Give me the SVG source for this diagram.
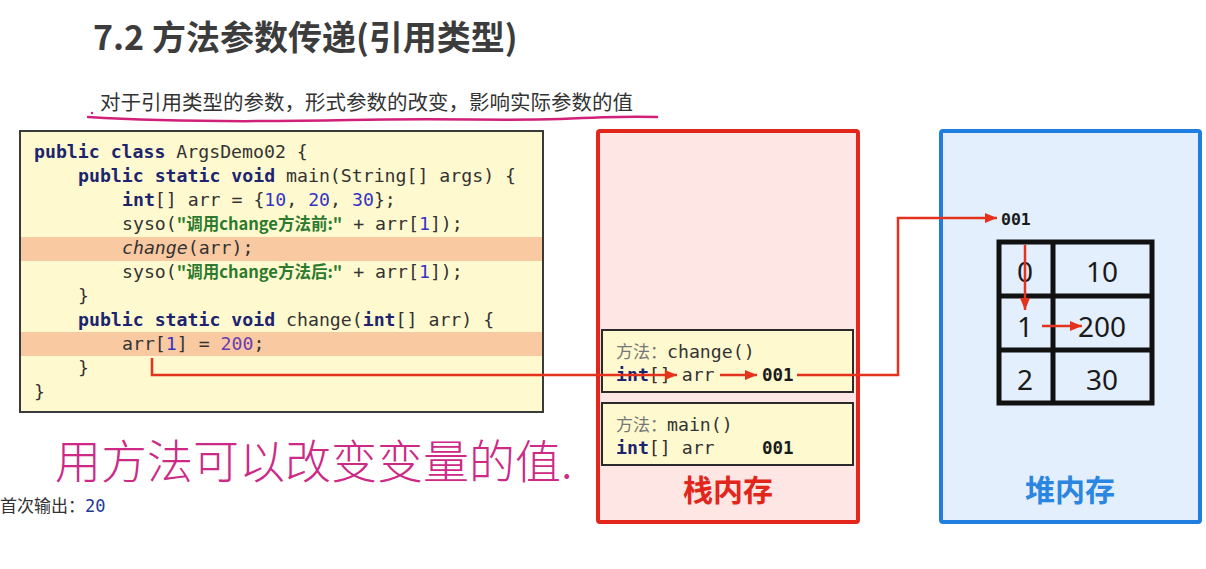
<svg xmlns="http://www.w3.org/2000/svg" width="1206" height="569" viewBox="0 0 1206 569">
<style>
.code{font-family:"DejaVu Sans Mono","Noto Sans CJK SC",monospace;font-size:18.2px;fill:#333;}
.kw{font-weight:bold;fill:#1c2470;}
.str{font-weight:bold;fill:#2b7a2e;font-family:"Noto Sans CJK SC","DejaVu Sans Mono",sans-serif;font-size:16.5px;}
.num{fill:#3434c4;}
.num2{fill:#6b3cb0;}
.it{font-style:italic;}
.cn{font-family:"Noto Sans CJK SC",sans-serif;}
.cell{font-family:"Noto Sans","Liberation Sans",sans-serif;font-size:28px;fill:#1a1a1a;text-anchor:middle;}
.addr{font-family:"DejaVu Sans Mono",monospace;font-weight:bold;fill:#1a1a1a;}
.frame{fill:#fff9cf;stroke:#2a2a2a;stroke-width:2;}
.conn{fill:none;stroke:#e5321d;stroke-width:2.5;}
</style>
<defs>
<marker id="ah" markerUnits="userSpaceOnUse" markerWidth="12" markerHeight="10" refX="12" refY="5" orient="auto">
<path d="M0,0 L12,5 L0,10 Z" fill="#e5321d"/>
</marker>
</defs>
<rect width="1206" height="569" fill="#ffffff"/>

<g id="title">
<text x="93" y="50" class="cn" font-size="34" font-weight="bold" fill="#3c3c3c">7.2 方法参数传递(引用类型)</text>
</g>

<g id="subtitle">
<text x="100" y="110" class="cn" font-size="20.5" fill="#333">对于引用类型的参数，形式参数的改变，影响实际参数的值</text>
<circle cx="92" cy="113" r="1.2" fill="#d0207a"/>
<path d="M88,117 C150,121 250,122 350,120 C450,118 500,121 560,119 C600,117 630,116 657,117" fill="none" stroke="#d0207a" stroke-width="2.5" stroke-linecap="round"/>
</g>

<g id="code">
<rect x="20" y="131" width="523" height="281" fill="#fff9cf" stroke="#3a3a3a" stroke-width="2"/>
<rect x="21" y="237" width="521" height="24" fill="#f9c9a2"/>
<rect x="21" y="332" width="521" height="24" fill="#f9c9a2"/>
<g class="code" xml:space="preserve">
<text x="34" y="158"><tspan class="kw">public class</tspan> ArgsDemo02 {</text>
<text x="78" y="182"><tspan class="kw">public static void</tspan> main(String[] args) {</text>
<text x="122" y="206"><tspan class="kw">int</tspan>[] arr = {<tspan class="num">10</tspan>, <tspan class="num">20</tspan>, <tspan class="num">30</tspan>};</text>
<text x="122" y="230">syso(<tspan class="str">"调用change方法前:"</tspan> + arr[<tspan class="num">1</tspan>]);</text>
<text x="122" y="254"><tspan class="it">change</tspan>(arr);</text>
<text x="122" y="278">syso(<tspan class="str">"调用change方法后:"</tspan> + arr[<tspan class="num">1</tspan>]);</text>
<text x="78" y="302">}</text>
<text x="78" y="326"><tspan class="kw">public static void</tspan> change(<tspan class="kw">int</tspan>[] arr) {</text>
<text x="122" y="350">arr[<tspan class="num">1</tspan>] = <tspan class="num2">200</tspan>;</text>
<text x="78" y="374">}</text>
<text x="34" y="398">}</text>
</g>
</g>

<g id="note">
<text x="55" y="478" class="cn" font-size="46" font-weight="300" fill="#cc2a86">用方法可以改变变量的值.</text>
</g>

<g id="output">
<text x="0" y="512" class="cn" font-size="17" fill="#333">首次输出：<tspan font-family="DejaVu Sans Mono,monospace" fill="#1f3a93">20</tspan></text>
</g>

<g id="stack">
<rect x="598" y="131" width="260" height="391" rx="2" fill="#fde6e3" stroke="#e3261b" stroke-width="4"/>
<text x="728" y="501" class="cn" font-size="30" font-weight="bold" fill="#e3261b" text-anchor="middle">栈内存</text>
</g>

<g id="frame-change">
<rect x="602" y="330" width="251" height="62" class="frame"/>
<text x="616" y="358" font-size="17"><tspan class="cn" fill="#777">方法：</tspan><tspan class="code" font-size="18.2">change()</tspan></text>
<text x="616" y="381" class="code" xml:space="preserve"><tspan class="kw">int</tspan>[] arr</text>
<text x="762" y="381" class="addr" font-size="17.5">001</text>
</g>

<g id="frame-main">
<rect x="602" y="403" width="251" height="62" class="frame"/>
<text x="616" y="431" font-size="17"><tspan class="cn" fill="#777">方法：</tspan><tspan class="code" font-size="18.2">main()</tspan></text>
<text x="616" y="454" class="code" xml:space="preserve"><tspan class="kw">int</tspan>[] arr</text>
<text x="762" y="454" class="addr" font-size="17.5">001</text>
</g>

<g id="heap">
<rect x="941" y="131" width="259" height="391" rx="2" fill="#e3effc" stroke="#1f7fe0" stroke-width="4"/>
<text x="1070" y="501" class="cn" font-size="30" font-weight="bold" fill="#2a86e0" text-anchor="middle">堆内存</text>
<text x="1001" y="225" class="addr" font-size="16.5">001</text>
</g>

<g id="array">
<rect x="999" y="242" width="153" height="161" fill="none" stroke="#111" stroke-width="5"/>
<line x1="1053" y1="242" x2="1053" y2="403" stroke="#111" stroke-width="5"/>
<line x1="999" y1="296" x2="1152" y2="296" stroke="#111" stroke-width="5"/>
<line x1="999" y1="350" x2="1152" y2="350" stroke="#111" stroke-width="5"/>
<text x="1025" y="282" class="cell">0</text>
<text x="1102" y="282" class="cell">10</text>
<text x="1025" y="337" class="cell">1</text>
<text x="1102" y="337" class="cell" font-family="DejaVu Sans Mono,monospace" fill="#2121c6">200</text>
<text x="1025" y="390" class="cell">2</text>
<text x="1102" y="390" class="cell">30</text>
</g>

<g id="connectors">
<path class="conn" d="M152,358 V375 H677" marker-end="url(#ah)"/>
<path class="conn" d="M720,375 H757" marker-end="url(#ah)"/>
<path class="conn" d="M797,375 H898 V218 H997" marker-end="url(#ah)"/>
<path class="conn" d="M1025,245 V310" marker-end="url(#ah)"/>
<path class="conn" d="M1042,326 H1082" marker-end="url(#ah)"/>
</g>
</svg>
